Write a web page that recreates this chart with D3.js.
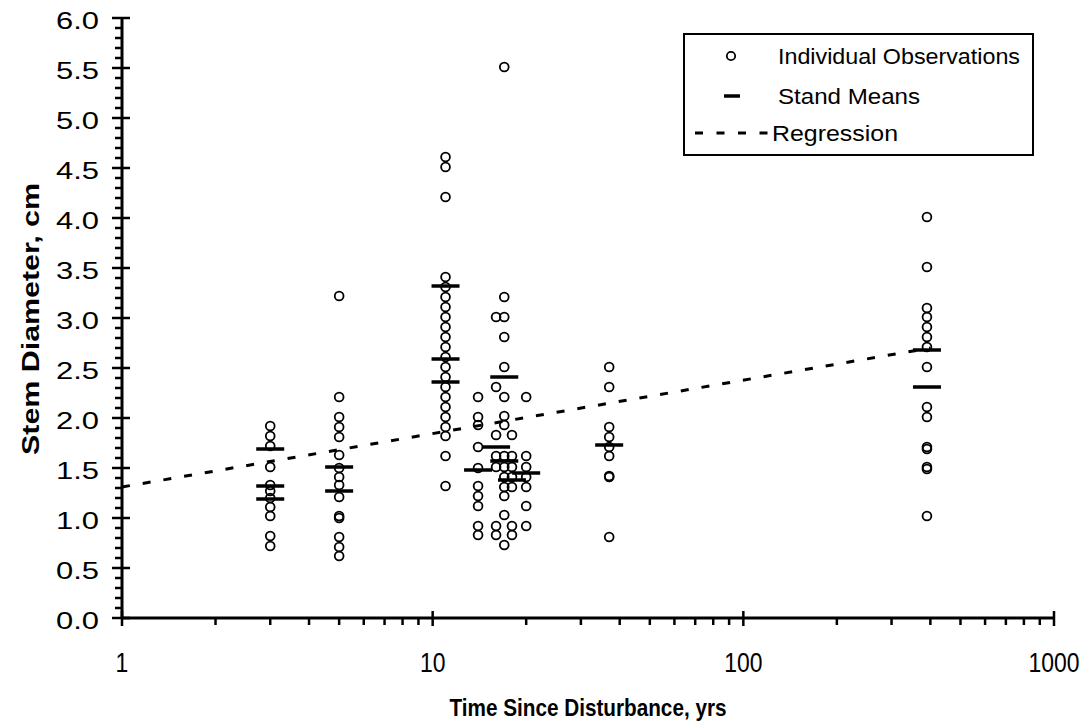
<!DOCTYPE html>
<html>
<head>
<meta charset="utf-8">
<script src="https://cdn.jsdelivr.net/npm/d3@7"></script>
<style>
  body { margin: 0; background: #fff; }
  text { font-family: "Liberation Sans", Arial, sans-serif; fill: #000; }
</style>
</head>
<body>
<svg id="chart" width="1089" height="728"></svg>
<script>
// stand ages (yrs) and the individual stem diameters (cm)
const obsAges = [3, 5, 11, 14, 16, 17, 18, 20, 37, 390];
const obsValues = [
    [1.92, 1.82, 1.72, 1.51, 1.33, 1.27, 1.2, 1.11, 1.02, 0.82, 0.72],
    [3.22, 2.21, 2.01, 1.91, 1.81, 1.63, 1.5, 1.41, 1.33, 1.21, 1.02, 1.0, 0.81, 0.71, 0.62],
    [4.61, 4.51, 4.21, 3.41, 3.31, 3.21, 3.11, 3.01, 2.91, 2.81, 2.71, 2.61, 2.51, 2.41, 2.31, 2.21, 2.11, 2.01, 1.91, 1.82, 1.62, 1.32],
    [2.21, 2.01, 1.93, 1.71, 1.5, 1.32, 1.22, 1.12, 0.92, 0.83],
    [3.01, 2.31, 1.83, 1.62, 1.51, 0.92, 0.83],
    [5.51, 3.21, 3.01, 2.81, 2.51, 2.21, 2.02, 1.93, 1.62, 1.51, 1.41, 1.31, 1.22, 1.03, 0.73],
    [1.83, 1.62, 1.51, 1.41, 1.31, 0.92, 0.83],
    [2.21, 1.62, 1.51, 1.41, 1.31, 1.12, 0.92],
    [2.51, 2.31, 1.91, 1.81, 1.71, 1.62, 1.42, 1.41, 0.81],
    [4.01, 3.51, 3.1, 3.01, 2.91, 2.81, 2.71, 2.51, 2.11, 2.01, 1.71, 1.69, 1.51, 1.49, 1.02]
];

// stand means
const meanAges =   [3,    3,    3,    5,    5,    11,   11,   11,   14,   16,   17,   17,   18,   20,   37,   390,  390];
const meanValues = [1.69, 1.32, 1.19, 1.51, 1.27, 3.32, 2.59, 2.36, 1.48, 1.71, 2.41, 1.57, 1.38, 1.45, 1.73, 2.68, 2.31];

// regression end points
const regAges = [1, 400];
const regValues = [1.31, 2.70];

const yTicks = [0, 0.5, 1, 1.5, 2, 2.5, 3, 3.5, 4, 4.5, 5, 5.5, 6];
const xTicks = [1, 10, 100, 1000];

const legendLabels = ["Individual Observations", "Stand Means", "Regression"];

const svg = d3.select("#chart");

const x = d3.scaleLog().domain([1, 1000]).range([122, 1054]);
const y = d3.scaleLinear().domain([0, 6]).range([618, 18]);

// minor ticks
const yMinor = d3.range(0, 60).map(d => d / 10).filter(d => Math.round(d * 10) % 5 !== 0);
svg.append("g").selectAll("line").data(yMinor).join("line")
    .attr("x1", 115).attr("x2", 122)
    .attr("y1", d => y(d)).attr("y2", d => y(d))
    .attr("stroke", "#000").attr("stroke-width", 2.5);

const xMinor = [];
[1, 10, 100].forEach(b => { for (let k = 2; k <= 9; k++) xMinor.push(b * k); });
svg.append("g").selectAll("line").data(xMinor).join("line")
    .attr("x1", d => x(d)).attr("x2", d => x(d))
    .attr("y1", 618).attr("y2", 625)
    .attr("stroke", "#000").attr("stroke-width", 2.5);

// major ticks
svg.append("g").selectAll("line").data(yTicks).join("line")
    .attr("x1", 112).attr("x2", 130)
    .attr("y1", d => y(d)).attr("y2", d => y(d))
    .attr("stroke", "#000").attr("stroke-width", 2.5);

svg.append("g").selectAll("line").data(xTicks).join("line")
    .attr("x1", d => x(d)).attr("x2", d => x(d))
    .attr("y1", 611).attr("y2", 626)
    .attr("stroke", "#000").attr("stroke-width", 2.5);

// axis lines
svg.append("line").attr("x1", x(1)).attr("x2", x(1)).attr("y1", y(6) - 1).attr("y2", y(0) + 1)
    .attr("stroke", "#000").attr("stroke-width", 3);
svg.append("line").attr("x1", x(1) - 1).attr("x2", x(1000) + 1).attr("y1", y(0)).attr("y2", y(0))
    .attr("stroke", "#000").attr("stroke-width", 3);

// tick labels (the source has stretched glyphs, hence textLength)
svg.append("g").selectAll("text").data(yTicks).join("text")
    .attr("x", 99).attr("y", d => y(d) + 2)
    .attr("dy", "0.36em")
    .attr("text-anchor", "end")
    .attr("textLength", 43).attr("lengthAdjust", "spacingAndGlyphs")
    .style("font-size", "24px")
    .text(d => d.toFixed(1));

svg.append("g").selectAll("text").data(xTicks).join("text")
    .attr("transform", d => `translate(${x(d)},672) scale(0.85,1)`)
    .attr("text-anchor", "middle")
    .style("font-size", "27px")
    .text(d => d);

// axis titles
svg.append("text")
    .attr("transform", `translate(39,${y(3) + 1}) rotate(-90)`)
    .attr("text-anchor", "middle")
    .attr("textLength", 272).attr("lengthAdjust", "spacingAndGlyphs")
    .style("font-size", "23px").style("font-weight", "bold")
    .text("Stem Diameter, cm");

svg.append("text")
    .attr("x", 588).attr("y", 716)
    .attr("text-anchor", "middle")
    .attr("textLength", 277).attr("lengthAdjust", "spacingAndGlyphs")
    .style("font-size", "24px").style("font-weight", "bold")
    .text("Time Since Disturbance, yrs");

// regression
const line = d3.line().x(d => x(d[0])).y(d => y(d[1]));
svg.append("path")
    .datum(regAges.map((a, i) => [a, regValues[i]]))
    .attr("d", line)
    .attr("fill", "none").attr("stroke", "#000")
    .attr("stroke-width", 3).attr("stroke-dasharray", "8,13");

// observations
const obs = [];
obsAges.forEach((a, i) => obsValues[i].forEach(v => obs.push([a, v])));
svg.append("g").selectAll("circle").data(obs).join("circle")
    .attr("cx", d => x(d[0])).attr("cy", d => y(d[1]))
    .attr("r", 4.4)
    .attr("fill", "none").attr("stroke", "#000").attr("stroke-width", 1.8);

// stand means
svg.append("g").selectAll("line").data(meanAges).join("line")
    .attr("x1", d => x(d) - 14).attr("x2", d => x(d) + 14)
    .attr("y1", (d, i) => y(meanValues[i])).attr("y2", (d, i) => y(meanValues[i]))
    .attr("stroke", "#000").attr("stroke-width", 3.5);

// legend
const lg = svg.append("g");
lg.append("rect").attr("x", 684).attr("y", 34).attr("width", 349).attr("height", 121)
    .attr("fill", "#fff").attr("stroke", "#000").attr("stroke-width", 2);
lg.append("circle").attr("cx", 731).attr("cy", 56).attr("r", 4.2)
    .attr("fill", "none").attr("stroke", "#000").attr("stroke-width", 1.8);
lg.append("line").attr("x1", 724).attr("x2", 740).attr("y1", 96).attr("y2", 96)
    .attr("stroke", "#000").attr("stroke-width", 3.5);
lg.append("line").attr("x1", 695).attr("x2", 770).attr("y1", 133).attr("y2", 133)
    .attr("stroke", "#000").attr("stroke-width", 3).attr("stroke-dasharray", "8,13.5");
lg.selectAll("text.lab").data(legendLabels).join("text")
    .attr("class", "lab")
    .attr("x", (d, i) => i === 2 ? 772 : 778)
    .attr("y", (d, i) => [56, 96, 133][i])
    .attr("dy", "0.36em")
    .attr("textLength", (d, i) => [242, 142, 126][i]).attr("lengthAdjust", "spacingAndGlyphs")
    .style("font-size", "22px")
    .text(d => d);
</script>
</body>
</html>
